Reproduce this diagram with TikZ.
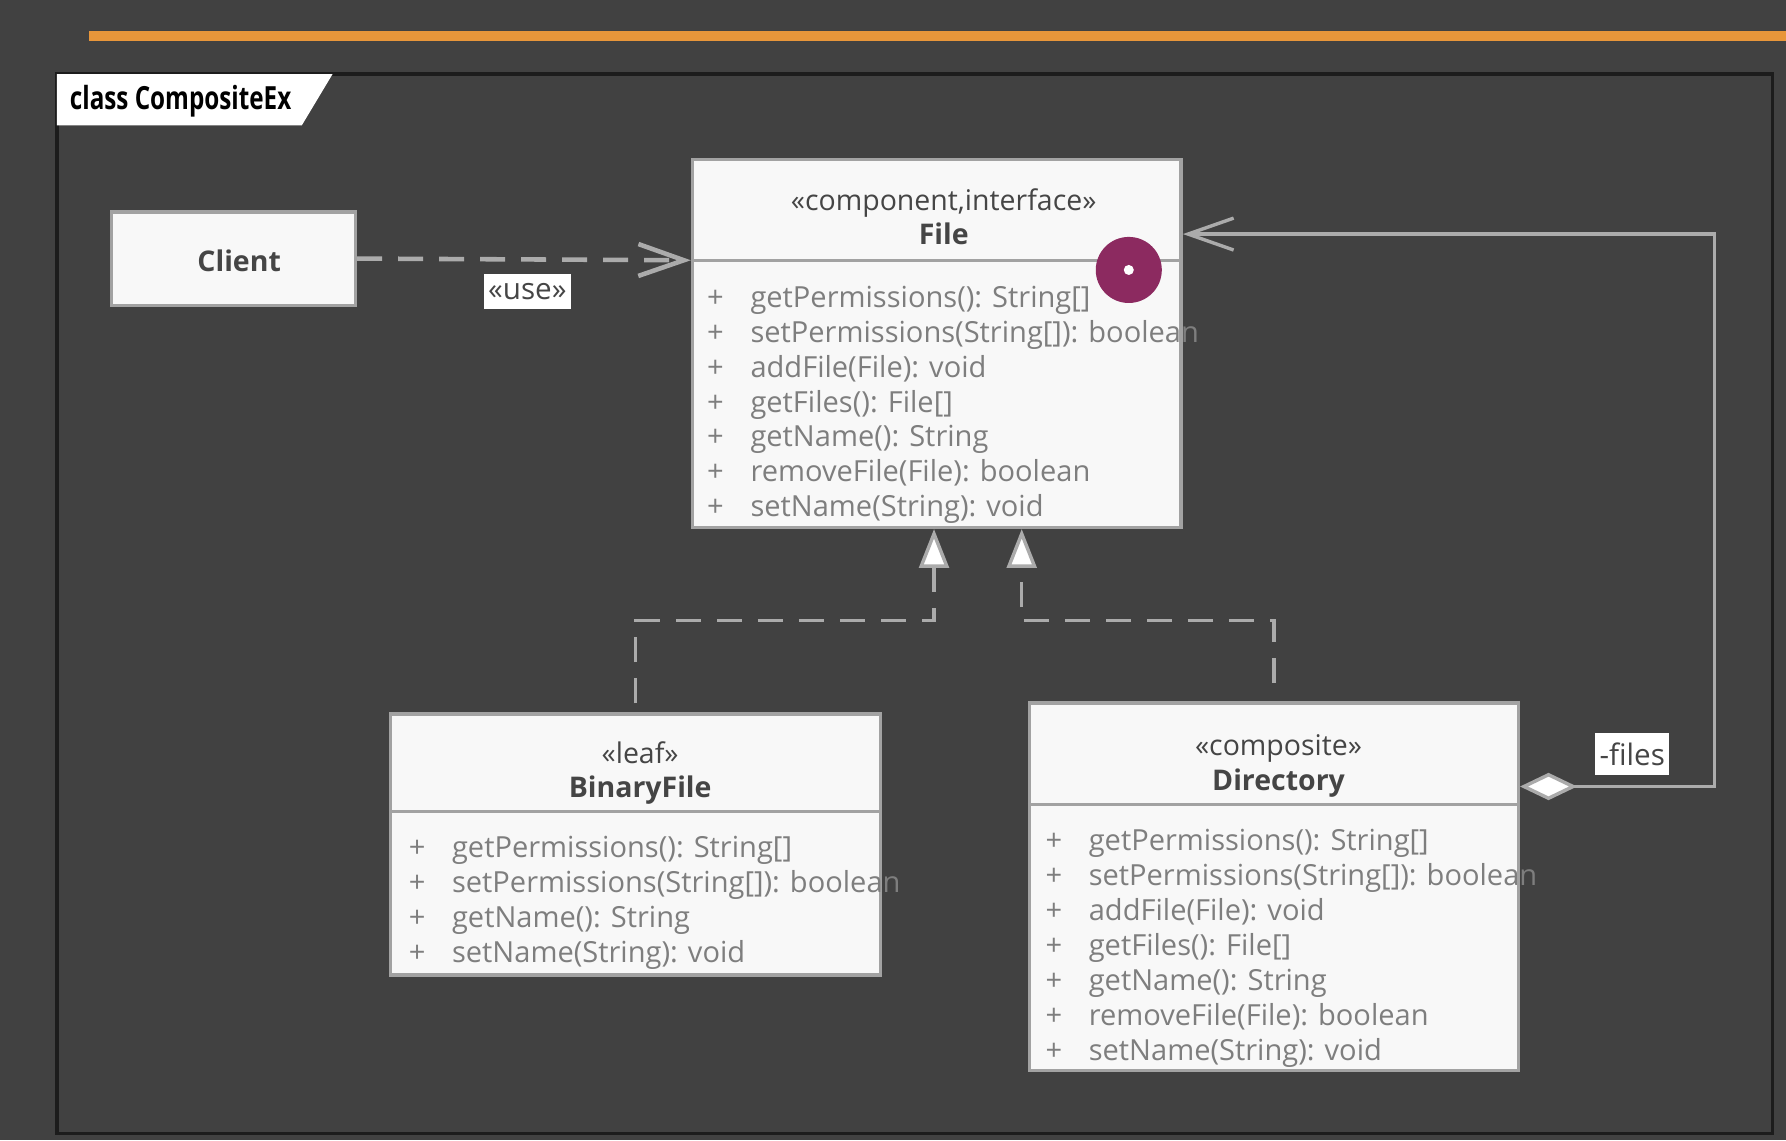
\documentclass[tikz,border=0pt]{standalone}
\usepackage{fontspec}
\setmainfont{Open Sans}
\usepackage{graphicx}
\usepackage{tikz}
\usetikzlibrary{arrows.meta}

\definecolor{bggray}{HTML}{414141}
\definecolor{framegray}{HTML}{1C1C1C}
\definecolor{barorange}{HTML}{E8963A}
\definecolor{boxline}{HTML}{A2A2A2}
\definecolor{boxfill}{HTML}{F8F8F8}
\definecolor{linkgray}{HTML}{ABABAB}
\definecolor{namegray}{HTML}{454545}
\definecolor{membergray}{HTML}{7E7E7E}
\definecolor{dotpurple}{HTML}{8C2A60}

\newcommand{\vis}{\makebox[19pt][l]{+}}

\begin{document}
\begin{tikzpicture}[x=0.5pt,y=-0.5pt,
    classbox/.style={draw=boxline,fill=boxfill,line width=1.5pt,inner sep=0pt},
    head/.style={align=center,text=namegray,font=\fontsize{12.5}{15}\selectfont},
    members/.style={anchor=north west,align=left,inner sep=0pt,text=membergray,
      font=\fontsize{12.75}{15.35}\selectfont},
    divider/.style={draw=boxline,line width=1.5pt},
    dep/.style={draw=linkgray,line width=2pt,dash pattern=on 11pt off 7pt},
    real/.style={draw=linkgray,line width=1.5pt,dash pattern=on 11pt off 7pt,
      -{Triangle[length=17pt,width=13pt,fill=white]}},
    assoc/.style={draw=linkgray,line width=1.5pt},
    tag/.style={fill=white,text=namegray,inner xsep=2pt,inner ysep=4pt,
      font=\fontsize{13}{15}\selectfont}]
  \fill[bggray] (0,0) rectangle (1568,1001);
  \useasboundingbox (0,0) rectangle (1568,1001);
  \fill[barorange] (78,27) rectangle (1568,36);
  \draw[framegray,line width=1.5pt] (50,65) rectangle (1556,995);
  \fill[white] (50,65) -- (292,65) -- (265,110) -- (50,110) -- cycle;
  \node[anchor=west,text=black,inner sep=0pt] (title) at (61,89)
    {\scalebox{0.76}[1]{\fontsize{14}{16}\selectfont\bfseries class CompositeEx}};

  \node[classbox,minimum width=107pt,minimum height=41pt] (client) at (205,227) {};
  \node[head] at ([xshift=2.5pt,yshift=-1pt]client.center) {\textbf{Client}};

  \node[classbox,minimum width=214.5pt,minimum height=161.5pt] (file) at (822.5,301.5) {};
  \node[head] (filehead) at ([xshift=3pt,yshift=-26pt]file.north)
    {«component,interface»\\\textbf{File}};
  \draw[divider] ([yshift=-45pt]file.north west) -- ([yshift=-45pt]file.north east);
  \node[members] (fileops) at ([xshift=7pt,yshift=-56pt]file.north west)
    {\vis getPermissions(): String[]\\\vis setPermissions(String[]): boolean\\
     \vis addFile(File): void\\\vis getFiles(): File[]\\\vis getName(): String\\
     \vis removeFile(File): boolean\\\vis setName(String): void};
  \node[circle,fill=dotpurple,minimum size=29pt,inner sep=0pt] (pin) at (991,237) {};
  \fill[white] (pin) circle (2.2pt);

  \node[classbox,minimum width=215pt,minimum height=114.5pt] (binary) at (558,741.5) {};
  \node[head] (binaryhead) at ([xshift=2pt,yshift=-26.5pt]binary.north)
    {«leaf»\\\textbf{BinaryFile}};
  \draw[divider] ([yshift=-43.5pt]binary.north west) -- ([yshift=-43.5pt]binary.north east);
  \node[members] (binaryops) at ([xshift=8.5pt,yshift=-54pt]binary.north west)
    {\vis getPermissions(): String[]\\\vis setPermissions(String[]): boolean\\
     \vis getName(): String\\\vis setName(String): void};

  \node[classbox,minimum width=214.5pt,minimum height=161.5pt] (dir) at (1118.5,778.5) {};
  \node[head] (dirhead) at ([xshift=2pt,yshift=-28.5pt]dir.north)
    {«composite»\\\textbf{Directory}};
  \draw[divider] ([yshift=-45.5pt]dir.north west) -- ([yshift=-45.5pt]dir.north east);
  \node[members] (dirops) at ([xshift=7.5pt,yshift=-56pt]dir.north west)
    {\vis getPermissions(): String[]\\\vis setPermissions(String[]): boolean\\
     \vis addFile(File): void\\\vis getFiles(): File[]\\\vis getName(): String\\
     \vis removeFile(File): boolean\\\vis setName(String): void};

  \coordinate (bjoin) at (820,545);
  \coordinate (djoin) at (897,545);
  \coordinate (loop) at (1505,450);

  \draw[dep,-{Straight Barb[length=20pt,width=14pt]}] (client.east)
    -- ([yshift=-45pt]file.north west);
  \node[tag] (uselbl) at (463,256) {«use»};
  \draw[real] ([yshift=4pt]binary.north) |- (bjoin) -- (bjoin |- file.south);
  \draw[real] ([yshift=8pt]dir.north) |- (djoin) -- (djoin |- file.south);
  \draw[assoc,{Diamond[length=25pt,width=12pt,fill=white]}-{Straight Barb[length=20pt,width=14pt]}]
    ([yshift=-37.5pt]dir.north east) -| (loop) |- ([yshift=-33.5pt]file.north east);
  \node[tag] (fileslbl) at (1433,662) {-files};
\end{tikzpicture}
\end{document}
